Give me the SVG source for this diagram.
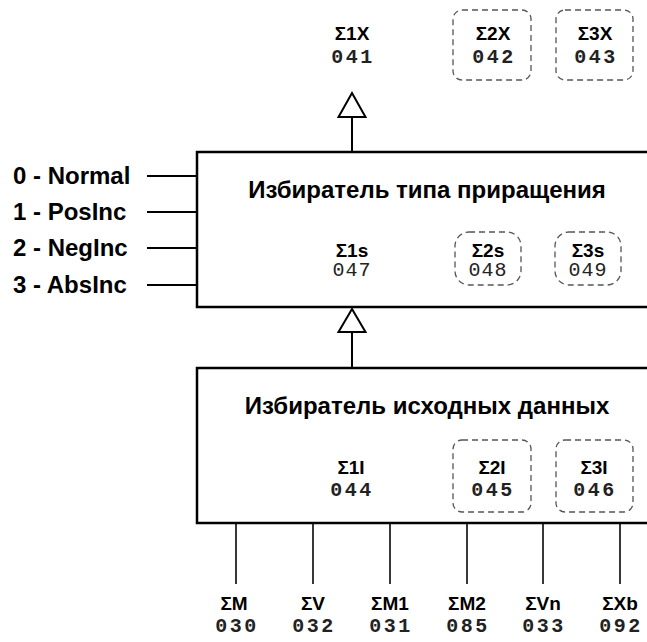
<svg xmlns="http://www.w3.org/2000/svg" width="647" height="642" viewBox="0 0 647 642">
<defs>
<style>
.box{fill:#fff;stroke:#000;stroke-width:2.5}
.dash{fill:none;stroke:#555;stroke-width:1.3;stroke-dasharray:6 4}
.ln{stroke:#000;stroke-width:2;fill:none}
.tri{fill:#fff;stroke:#000;stroke-width:2}
.lbl{font-family:"Liberation Sans",Arial,sans-serif;font-weight:bold;font-size:19px;fill:#000;text-anchor:middle}
.big{font-family:"Liberation Sans",Arial,sans-serif;font-weight:bold;font-size:24px;fill:#000}
.num{font-family:"Liberation Mono","Courier New",monospace;font-weight:bold;font-size:20px;fill:#222;text-anchor:middle;letter-spacing:2.5px}
.numr{font-family:"Liberation Mono","Courier New",monospace;font-size:20px;fill:#222;text-anchor:middle;letter-spacing:1px}
</style>
</defs>
<rect width="647" height="642" fill="#fff"/>
<g id="connectors">
<line class="ln" x1="147" y1="176" x2="197" y2="176"/>
<line class="ln" x1="147" y1="212" x2="197" y2="212"/>
<line class="ln" x1="147" y1="248" x2="197" y2="248"/>
<line class="ln" x1="147" y1="285" x2="197" y2="285"/>
<line class="ln" x1="352" y1="117" x2="352" y2="152"/>
<polygon class="tri" points="352,93 338.5,117 365.5,117"/>
<line class="ln" x1="352" y1="332" x2="352" y2="368"/>
<polygon class="tri" points="352,309 338.5,332 365.5,332"/>
<g stroke="#222" stroke-width="1.8">
<line x1="236" y1="523" x2="236" y2="584"/>
<line x1="313" y1="523" x2="313" y2="584"/>
<line x1="390" y1="523" x2="390" y2="584"/>
<line x1="467" y1="523" x2="467" y2="584"/>
<line x1="543" y1="523" x2="543" y2="584"/>
<line x1="620" y1="523" x2="620" y2="584"/>
</g>
</g>
<g id="outputs">
<text class="lbl" x="352" y="40">Σ1X</text>
<text class="num" x="353" y="63">041</text>
<rect class="dash" x="453" y="10" width="78" height="70" rx="9"/>
<text class="lbl" x="493" y="40">Σ2X</text>
<text class="num" x="494" y="63">042</text>
<rect class="dash" x="556" y="10" width="77" height="70" rx="9"/>
<text class="lbl" x="595" y="40">Σ3X</text>
<text class="num" x="596" y="63">043</text>
</g>
<g id="inputs-left">
<text class="big" x="13" y="184">0 - Normal</text>
<text class="big" x="13" y="220">1 - PosInc</text>
<text class="big" x="13" y="256">2 - NegInc</text>
<text class="big" x="13" y="293">3 - AbsInc</text>
</g>
<g id="incsel">
<rect class="box" x="197" y="152" width="460" height="155"/>
<text class="big" x="427" y="198" text-anchor="middle">Избиратель типа приращения</text>
<text class="lbl" x="352" y="257">Σ1s</text>
<text class="numr" x="352" y="276">047</text>
<rect class="dash" x="455" y="232" width="66" height="53" rx="14"/>
<text class="lbl" x="488" y="257">Σ2s</text>
<text class="numr" x="488" y="276">048</text>
<rect class="dash" x="555" y="232" width="66" height="53" rx="14"/>
<text class="lbl" x="588" y="257">Σ3s</text>
<text class="numr" x="588" y="276">049</text>
</g>
<g id="srcsel">
<rect class="box" x="197" y="368" width="460" height="155"/>
<text class="big" x="427" y="414" text-anchor="middle">Избиратель исходных данных</text>
<text class="lbl" x="351" y="474">Σ1I</text>
<text class="num" x="352" y="496">044</text>
<rect class="dash" x="453" y="440" width="78" height="72" rx="9"/>
<text class="lbl" x="492" y="474">Σ2I</text>
<text class="num" x="493" y="496">045</text>
<rect class="dash" x="556" y="440" width="77" height="72" rx="9"/>
<text class="lbl" x="594" y="474">Σ3I</text>
<text class="num" x="595" y="496">046</text>
</g>
<g id="sources">
<text class="lbl" x="234" y="610">ΣM</text>
<text class="num" x="237" y="632">030</text>
<text class="lbl" x="313" y="610">ΣV</text>
<text class="num" x="314" y="632">032</text>
<text class="lbl" x="390" y="610">ΣM1</text>
<text class="num" x="391" y="632">031</text>
<text class="lbl" x="467" y="610">ΣM2</text>
<text class="num" x="468" y="632">085</text>
<text class="lbl" x="543" y="610">ΣVn</text>
<text class="num" x="544" y="632">033</text>
<text class="lbl" x="620" y="610">ΣXb</text>
<text class="num" x="621" y="632">092</text>
</g>
</svg>
